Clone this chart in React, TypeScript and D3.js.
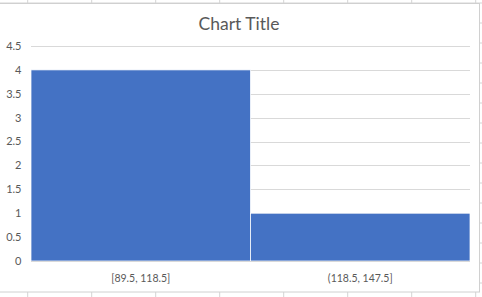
import React from "react";
import * as d3 from "d3";

const categories = ["[89.5, 118.5]", "(118.5, 147.5]"];
const counts = [4, 1];
const yTicks = [0, 0.5, 1, 1.5, 2, 2.5, 3, 3.5, 4, 4.5];
const title = "Chart Title";

const W = 482;
const H = 297;
const FONT = "Lato, 'Open Sans', sans-serif";

export default function App() {
  const plot = { left: 31, right: 470, top: 46, bottom: 261 };
  const x = d3.scaleBand<string>().domain(categories).range([plot.left, plot.right]).padding(0);
  const y = d3.scaleLinear().domain([0, 4.5]).range([plot.bottom, plot.top]);

  const colLines = d3.range(27.7, W, 64);
  const rowLines = d3.range(3, H, 20);

  return (
    <svg
      width={W}
      height={H}
      style={{ position: "absolute", left: 0, top: 0, background: "#fff" }}
    >
      {/* spreadsheet grid behind chart */}
      {colLines.map((cx, i) => (
        <line key={"c" + i} x1={cx} x2={cx} y1={0} y2={H} stroke="#d4d4d4" strokeWidth={1} />
      ))}
      {rowLines.map((ry, i) => (
        <line key={"r" + i} x1={0} x2={W} y1={ry} y2={ry} stroke="#d4d4d4" strokeWidth={1} />
      ))}
      {/* chart area */}
      <rect x={-2} y={3.5} width={481.5} height={288.5} fill="#fff" stroke="#d0d0d0" strokeWidth={1} />

      <text x={239} y={29.5} textAnchor="middle" fontFamily={FONT} fontSize={17.5} fill="#595959">
        {title}
      </text>

      {/* gridlines */}
      {yTicks.map((t) => (
        <line
          key={"g" + t}
          x1={plot.left}
          x2={plot.right}
          y1={Math.round(y(t)) + 0.5}
          y2={Math.round(y(t)) + 0.5}
          stroke="#d9d9d9"
          strokeWidth={1}
        />
      ))}

      {/* bars */}
      {categories.map((c, i) => (
        <rect
          key={c}
          x={x(c)!}
          y={y(counts[i])}
          width={x.bandwidth()}
          height={y(0) - y(counts[i])}
          fill="#4472C4"
          stroke="#fff"
          strokeWidth={0.75}
        />
      ))}

      {/* axis line */}
      <line x1={plot.left} x2={plot.right} y1={Math.round(y(0)) + 0.5} y2={Math.round(y(0)) + 0.5} stroke="#d9d9d9" />

      {/* y labels */}
      {yTicks.map((t) => (
        <text
          key={"yl" + t}
          x={21.5}
          y={y(t)}
          dy="0.35em"
          textAnchor="end"
          fontFamily={FONT}
          fontSize={11}
          fill="#595959"
        >
          {String(t)}
        </text>
      ))}

      {/* x labels */}
      {categories.map((c) => (
        <text
          key={"xl" + c}
          x={x(c)! + x.bandwidth() / 2}
          y={278}
          dy="0.35em"
          textAnchor="middle"
          fontFamily={FONT}
          fontSize={10.5}
          fill="#595959"
        >
          {c}
        </text>
      ))}
    </svg>
  );
}
